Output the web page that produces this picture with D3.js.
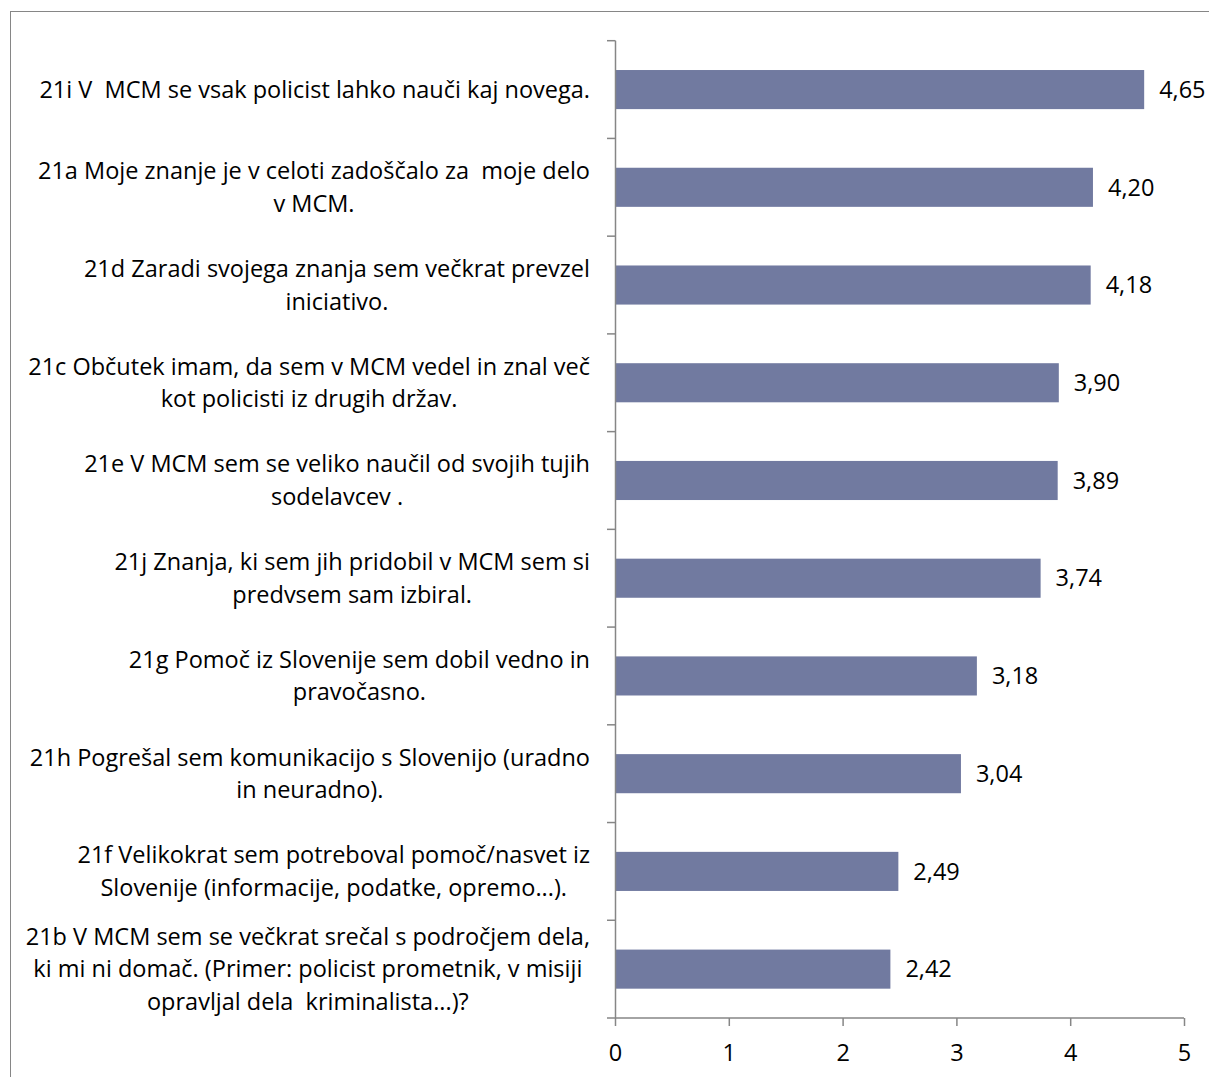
<!DOCTYPE html>
<html><head><meta charset="utf-8">
<script src="https://cdn.jsdelivr.net/npm/d3@7"></script>
<style>body{margin:0;background:#fff}svg{display:block}text{font-family:"Open Sans",Lato,sans-serif;fill:#000;white-space:pre;font-variant-ligatures:none}</style>
</head><body>
<script>
const categories = [
  ["21i V  MCM se vsak policist lahko nauči kaj novega."],
  ["21a Moje znanje je v celoti zadoščalo za  moje delo", "v MCM."],
  ["21d Zaradi svojega znanja sem večkrat prevzel", "iniciativo."],
  ["21c Občutek imam, da sem v MCM vedel in znal več", "kot policisti iz drugih držav."],
  ["21e V MCM sem se veliko naučil od svojih tujih", "sodelavcev ."],
  ["21j Znanja, ki sem jih pridobil v MCM sem si", "predvsem sam izbiral."],
  ["21g Pomoč iz Slovenije sem dobil vedno in", "pravočasno."],
  ["21h Pogrešal sem komunikacijo s Slovenijo (uradno", "in neuradno)."],
  ["21f Velikokrat sem potreboval pomoč/nasvet iz", "Slovenije (informacije, podatke, opremo...)."],
  ["21b V MCM sem se večkrat srečal s področjem dela,", "ki mi ni domač. (Primer: policist prometnik, v misiji", "opravljal dela  kriminalista...)?"]
];
const values = [4.65, 4.20, 4.18, 3.90, 3.89, 3.74, 3.18, 3.04, 2.49, 2.42];
const valueLabels = ["4,65","4,20","4,18","3,90","3,89","3,74","3,18","3,04","2,49","2,42"];
const xTicks = [0,1,2,3,4,5];

const W = 1209, H = 1077;
const svg = d3.select("body").append("svg").attr("width", W).attr("height", H);
svg.append("rect").attr("x", 10.5).attr("y", 11.5).attr("width", W + 10).attr("height", H + 10)
  .attr("fill", "none").attr("stroke", "#868686").attr("stroke-width", 1);

const x = d3.scaleLinear().domain([0, 5]).range([615, 1184]);
const y = d3.scaleBand().domain(d3.range(categories.length)).range([40.7, 1018]).paddingInner(0.6).paddingOuter(0.3);
const yb = d3.scaleBand().domain(d3.range(categories.length)).range([40.7, 1018]);
const axisColor = "#868686";
const fs = 23.5;

// bars
svg.append("g").selectAll("rect").data(values).join("rect")
  .attr("x", x(0)).attr("y", (d, i) => y(i)).attr("width", d => x(d) - x(0)).attr("height", y.bandwidth())
  .attr("fill", "#717AA0");

// value labels
svg.append("g").selectAll("text").data(values).join("text")
  .attr("x", d => x(d) + 15).attr("y", (d, i) => y(i) + y.bandwidth() / 2).attr("dy", "0.35em")
  .attr("font-size", fs).text((d, i) => valueLabels[i]);

// y axis
const yAxis = svg.append("g").attr("transform", `translate(${x(0)},0)`);
yAxis.append("line").attr("x1", 0.5).attr("x2", 0.5).attr("y1", 40.7).attr("y2", 1018).attr("stroke", axisColor).attr("stroke-width", 1.5);
yAxis.selectAll("line.t").data(d3.range(categories.length + 1)).join("line").attr("class", "t")
  .attr("x1", -8).attr("x2", 0.5).attr("y1", i => 40.7 + i * yb.step()).attr("y2", i => 40.7 + i * yb.step())
  .attr("stroke", axisColor).attr("stroke-width", 1.5);

// x axis
const xAxis = svg.append("g").attr("transform", `translate(0,1018)`)
  .call(d3.axisBottom(x).tickValues(xTicks).tickSize(8).tickPadding(18).tickFormat(d3.format("d")));
xAxis.select(".domain").attr("stroke", axisColor).attr("stroke-width", 1.5).attr("d", `M${x(0)},0H${x(5)}`);
xAxis.selectAll(".tick line").attr("stroke", axisColor).attr("stroke-width", 1.5);
xAxis.selectAll(".tick text").attr("font-size", fs).attr("font-family", "'Open Sans',Lato,sans-serif").attr("fill", "#000");

// category labels
const lh = 32.5, rightEdge = 590;
categories.forEach((lines, i) => {
  const g = svg.append("g");
  const cy = yb(i) + yb.bandwidth() / 2;
  const t = g.append("text").attr("font-size", fs).attr("text-anchor", "middle");
  lines.forEach((ln, j) => {
    t.append("tspan").attr("x", 0).attr("y", cy + (j - (lines.length - 1) / 2) * lh).attr("dy", "0.35em").text(ln);
  });
  const w = t.node().getBBox().width;
  t.selectAll("tspan").attr("x", rightEdge - w / 2);
});
</script>
</body></html>
